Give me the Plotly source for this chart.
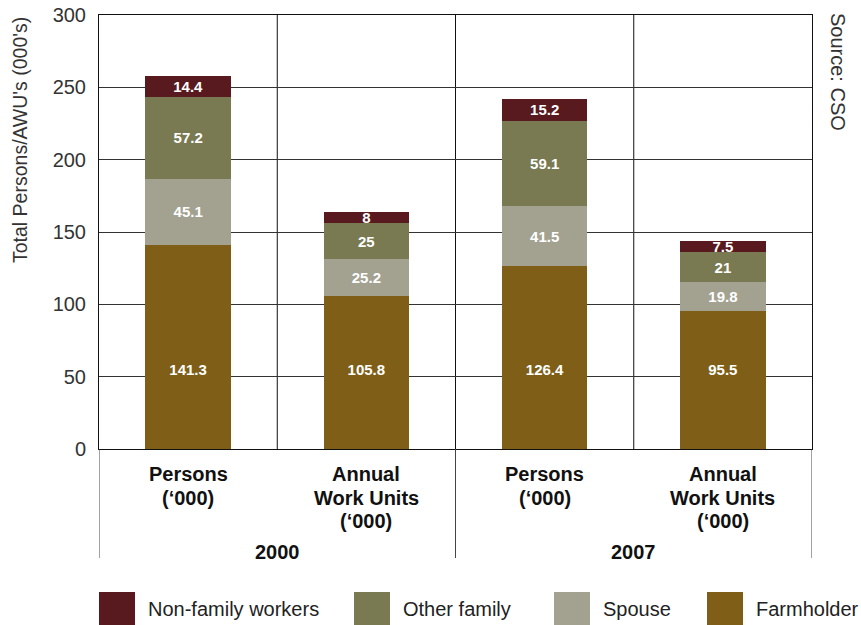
import plotly.graph_objects as go

# Farm labour input, Persons vs Annual Work Units, 2000 and 2007
categories = ["Persons\n(‘000)", "Annual\nWork Units\n(‘000)",
              "Persons\n(‘000)", "Annual\nWork Units\n(‘000)"]
years = ["2000", "2007"]

series_names = ["Farmholder", "Spouse", "Other family", "Non-family workers"]
farmholder = [141.3, 105.8, 126.4, 95.5]
spouse = [45.1, 25.2, 41.5, 19.8]
other_family = [57.2, 25.0, 59.1, 21.0]
non_family = [14.4, 8.0, 15.2, 7.5]
series_values = [farmholder, spouse, other_family, non_family]
series_colors = ["#7f5f18", "#a3a291", "#797a52", "#581a1e"]

y_ticks = [0, 50, 100, 150, 200, 250, 300]
base_label_level = 54  # farmholder values are printed on one common row

FONT = "Liberation Sans, Arial, sans-serif"
L, R, T, B = 99, 49, 15, 176
W, H = 861, 625
PW, PH = W - L - R, H - T - B


def py(px):
    """pixel row -> paper y"""
    return (H - B - px) / PH


def px_x(px):
    """pixel column -> paper x"""
    return (px - L) / PW


xpos = list(range(len(categories)))
label_font = dict(family=FONT, size=15, color="white", weight="bold")

fig = go.Figure()
for k, (name, vals, col) in enumerate(zip(series_names, series_values, series_colors)):
    fig.add_trace(go.Bar(
        x=xpos, y=vals, name=name, width=0.48,
        marker=dict(color=col, line=dict(width=0)),
        text=None if k == 0 else [f"{v:g}" for v in vals],
        textposition="inside", insidetextanchor="middle",
        constraintext="none", textangle=0,
        textfont=label_font,
        hoverinfo="skip",
    ))

# farmholder value labels on a common row near the base
fig.add_trace(go.Scatter(
    x=xpos, y=[base_label_level] * len(xpos), mode="text",
    text=[f"{v:g}" for v in farmholder], textposition="middle center",
    textfont=label_font, hoverinfo="skip", showlegend=False,
))

shapes = []
# separators between columns inside the plot
for xv in [0.5, 1.5, 2.5]:
    shapes.append(dict(type="line", xref="x", yref="y", x0=xv, x1=xv,
                       y0=0, y1=300, line=dict(color="#111", width=1),
                       layer="below"))
# group dividers extending below the axis
for xv in [-0.5, 1.5, 3.5]:
    shapes.append(dict(type="line", xref="x", yref="paper", x0=xv, x1=xv,
                       y0=0, y1=py(558), line=dict(color="#444", width=1)))

annotations = []
# multi-line category labels
for i, cat in enumerate(categories):
    for j, line in enumerate(cat.split("\n")):
        annotations.append(dict(
            x=i, xref="x", y=py(474 + j * 23.7), yref="paper",
            text=f"<b>{line}</b>", showarrow=False,
            xanchor="center", yanchor="middle",
            font=dict(family=FONT, size=20, color="#111")))
# year group labels
for k, yr in enumerate(years):
    annotations.append(dict(
        x=0.5 + 2 * k, xref="x", y=py(552), yref="paper",
        text=f"<b>{yr}</b>", showarrow=False,
        xanchor="center", yanchor="middle",
        font=dict(family=FONT, size=20, color="#111")))

# y-axis title and source note
annotations.append(dict(
    x=px_x(20), xref="paper", y=py(140), yref="paper",
    text="Total Persons/AWU's (000's)", textangle=-90, showarrow=False,
    xanchor="center", yanchor="middle",
    font=dict(family=FONT, size=19.5, color="#333")))
annotations.append(dict(
    x=px_x(838), xref="paper", y=py(72), yref="paper",
    text="Source: CSO", textangle=90, showarrow=False,
    xanchor="center", yanchor="middle",
    font=dict(family=FONT, size=20, color="#333")))

# legend drawn as swatches + labels
legend_order = [3, 2, 1, 0]
legend_sw_x = [99, 354, 554, 707]
for k, idx in enumerate(legend_order):
    x0 = legend_sw_x[k]
    shapes.append(dict(type="rect", xref="paper", yref="paper",
                       x0=px_x(x0), x1=px_x(x0 + 36), y0=py(592), y1=py(626),
                       fillcolor=series_colors[idx], line=dict(width=0)))
    annotations.append(dict(
        x=px_x(x0 + 47), xref="paper", y=py(609), yref="paper",
        text=series_names[idx], showarrow=False,
        xanchor="left", yanchor="middle",
        font=dict(family=FONT, size=20, color="#222")))

fig.update_layout(
    width=W, height=H,
    margin=dict(l=L, r=R, t=T, b=B, pad=0, autoexpand=False),
    barmode="stack",
    showlegend=False,
    plot_bgcolor="white", paper_bgcolor="white",
    shapes=shapes, annotations=annotations,
    xaxis=dict(range=[-0.5, 3.5], showticklabels=False, showgrid=False,
               zeroline=False, showline=True, linecolor="#111", linewidth=1,
               mirror=True, ticks="", automargin=False),
    yaxis=dict(range=[0, 300], tickvals=y_ticks,
               ticktext=[str(v) for v in y_ticks],
               showgrid=True, gridcolor="#333", gridwidth=1,
               zeroline=False, showline=True, linecolor="#111", linewidth=1,
               mirror=True, ticks="", ticklabelstandoff=8, automargin=False,
               tickfont=dict(family=FONT, size=20, color="#333")),
)

fig.write_html("out.html")
